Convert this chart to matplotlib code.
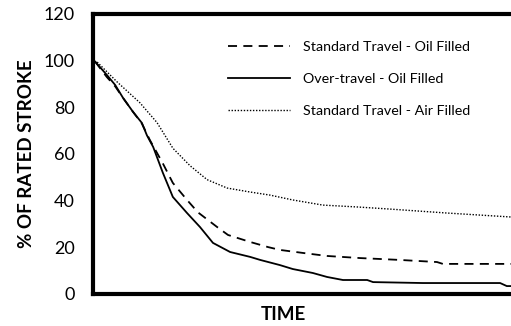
import matplotlib.pyplot as plt

# time axis is unitless in the source chart (0-100)
t_over = [0.5, 3.3, 5.3, 7.2, 9.6, 11.7, 12.9, 14.4, 16.7, 19.1, 22.5, 25.6, 28.7,
          32.8, 37.6, 40, 44.7, 47.8, 52.6, 56, 59.8, 65.6, 67, 78.9, 97.4, 99, 100]
over_oil = [99.6, 93.9, 89.6, 84, 78, 73.3, 68, 63, 52, 41.6, 34.7, 28.7, 21.9,
            18, 15.9, 14.6, 12.4, 10.7, 9, 7.3, 6, 6, 5.1, 4.7, 4.7, 3.4, 3.4]

t_std = [0.5, 3.3, 5.3, 7.2, 9.6, 11.7, 13.6, 16.7, 19.1, 22.5, 25.1, 29.7, 32.3,
         37.6, 41.9, 44.7, 50.2, 56, 63.9, 68.7, 73.4, 82.3, 83.7, 100]
std_oil = [99.6, 93, 89, 84, 78, 73, 66, 56, 47.6, 40.3, 35, 28.7, 25.3,
           22.3, 20.1, 18.9, 17.6, 16.3, 15.4, 15, 14.6, 13.7, 12.9, 12.9]

t_air = [1, 5.7, 11.2, 15.3, 19.1, 23.2, 27.3, 32.1, 37.6, 42.3, 47.8, 55, 63.2,
         71, 84.7, 100]
std_air = [99.4, 91, 82, 73.5, 62.5, 55, 49, 45.4, 43.7, 42.4, 40.3, 38.1, 37.3,
           36.4, 34.7, 33]

labels = ['Standard Travel - Oil Filled', 'Over-travel - Oil Filled',
          'Standard Travel - Air Filled']

plt.rcParams['font.family'] = ['Lato', 'DejaVu Sans']

fig = plt.figure(figsize=(5.11, 3.26), dpi=100)
ax = fig.add_axes([93 / 511, 32 / 326, 423 / 511, 280 / 326])

ax.plot(t_std, std_oil, color='black', lw=1.3, ls=(0, (5, 3.5)), label=labels[0])
ax.plot(t_over, over_oil, color='black', lw=1.3, label=labels[1])
ax.plot(t_air, std_air, color='black', lw=1.0, ls=(0, (1, 1.2)), label=labels[2])

ax.set_xlim(0, 101.2)
ax.set_ylim(0, 120)
ax.set_yticks(range(0, 121, 20))
ax.set_xticks([])
ax.tick_params(axis='y', length=0, pad=13, labelsize=13)
for s in ax.spines.values():
    s.set_linewidth(3)

ax.set_ylabel('% OF RATED STROKE', fontsize=13.5, fontweight='bold')
ax.yaxis.set_label_coords(-0.138, 0.5)
ax.set_xlabel('TIME', fontsize=13.5, fontweight='bold')
ax.xaxis.set_label_coords(0.449, -0.042)

ax.legend(loc='upper left', bbox_to_anchor=(215 / 511, 1 - 28.4 / 326),
          bbox_transform=fig.transFigure, frameon=False, fontsize=10.3,
          handlelength=4.33, handletextpad=0.9, labelspacing=1.38)

fig.savefig('out.png', dpi=100)
